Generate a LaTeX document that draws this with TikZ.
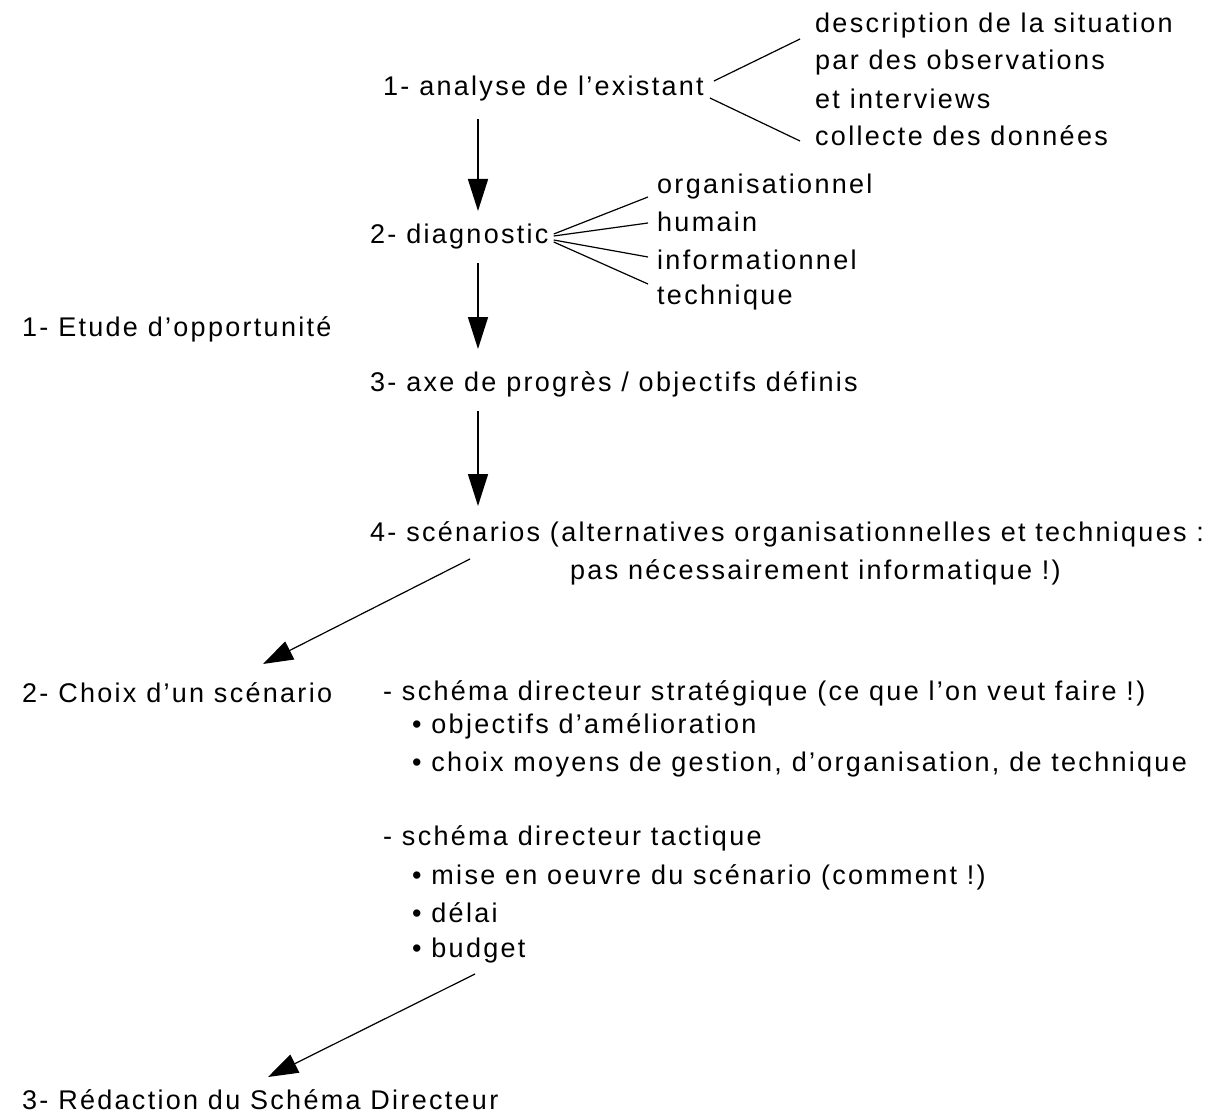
\documentclass[tikz,border=0pt]{standalone}
\usepackage{fontspec}
\setmainfont{Liberation Sans}[LetterSpace=8.5]
\usetikzlibrary{arrows.meta}
\begin{document}
\begin{tikzpicture}[x=1pt,y=-1pt,
  txt/.style={anchor=west,inner sep=0pt,font=\fontsize{27}{37}\selectfont},
  arr/.style={-{Triangle[length=32pt,width=20pt]},line width=1.6pt},
  darr/.style={-{Triangle[length=30pt,width=20pt]},line width=1.2pt},
  ln/.style={line width=1.2pt}]
\useasboundingbox (0,0) rectangle (1210,1118);
\node[txt] (s1) at (815,26) {description de la situation};
\node[txt] (s2) at (815,63) {par des observations};
\node[txt] (s3) at (815,99) {et interviews};
\node[txt] (s4) at (815,136) {collecte des données};
\node[txt] (a1) at (383,89) {1- analyse de l’existant};
\node[txt] (d2) at (370,237) {2- diagnostic};
\node[txt] (o1) at (657,187) {organisationnel};
\node[txt] (o2) at (657,222) {humain};
\node[txt] (o3) at (657,260) {informationnel};
\node[txt] (o4) at (657,298) {technique};
\node[txt] (e1) at (22,329) {1- Etude d’opportunité};
\node[txt] (a3) at (370,384) {3- axe de progrès / objectifs définis};
\node[txt] (sc) at (370,534) {4- scénarios (alternatives organisationnelles et techniques :};
\node[txt] (sc2) at (570,572) {pas nécessairement informatique !)};
\node[txt] (ch) at (22,693) {2- Choix d’un scénario};
\node[txt] (t1) at (383,693) {- schéma directeur stratégique (ce que l’on veut faire !)};
\node[txt] (t2) at (412,726) {• objectifs d’amélioration};
\node[txt] (t3) at (412,765) {• choix moyens de gestion, d’organisation, de technique};
\node[txt] (t4) at (383,838) {- schéma directeur tactique};
\node[txt] (t5) at (412,877) {• mise en oeuvre du scénario (comment !)};
\node[txt] (t6) at (412,913) {• délai};
\node[txt] (t7) at (412,951) {• budget};
\node[txt] (rd) at (22,1100) {3- Rédaction du Schéma Directeur};
\coordinate (vx) at (478,0);
% branches of analyse
\draw[ln] ([xshift=10pt,yshift=8pt]a1.east) -- ([xshift=-15pt,yshift=-13pt]s1.west);
\draw[ln] ([xshift=6pt,yshift=-9pt]a1.east) -- ([xshift=-15pt,yshift=-5pt]s4.west);
% fan of diagnostic
\draw[ln] ([xshift=5pt,yshift=3pt]d2.east) -- ([xshift=-9pt,yshift=-10pt]o1.west);
\draw[ln] ([xshift=5pt,yshift=1pt]d2.east) -- ([xshift=-9pt,yshift=-1pt]o2.west);
\draw[ln] ([xshift=5pt,yshift=-3pt]d2.east) -- ([xshift=-9pt,yshift=3pt]o3.west);
\draw[ln] ([xshift=5pt,yshift=-5pt]d2.east) -- ([xshift=-9pt,yshift=14pt]o4.west);
% vertical arrows
\draw[arr] ([yshift=-30pt]a1.center -| vx) -- ([yshift=26pt]d2.center -| vx);
\draw[arr] ([yshift=-26pt]d2.center -| vx) -- ([yshift=35pt]a3.center -| vx);
\draw[arr] ([yshift=-27pt]a3.center -| vx) -- ([yshift=28pt]sc.center -| vx);
% diagonal arrows
\draw[darr] ([xshift=100pt,yshift=-25pt]sc.west) -- ([xshift=241pt,yshift=29pt]ch.west);
\draw[darr] ([xshift=63pt,yshift=-23pt]t7.west) -- ([xshift=246pt,yshift=23pt]rd.west);
\end{tikzpicture}
\end{document}
